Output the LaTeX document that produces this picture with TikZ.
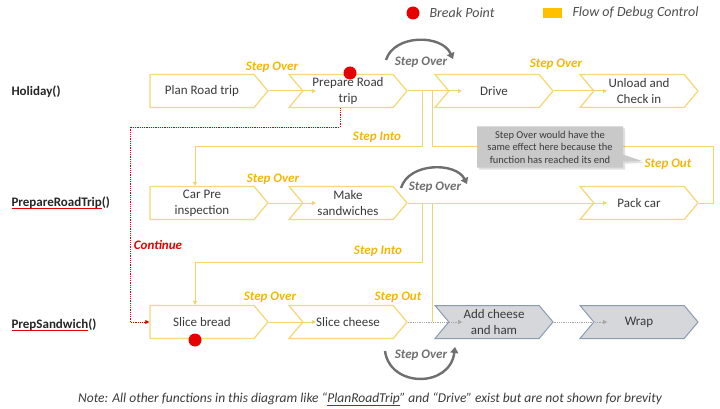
\documentclass[tikz,border=0pt]{standalone}
\usepackage{fontspec}
\setmainfont{Carlito}
\usetikzlibrary{shapes.symbols,shapes.callouts,arrows.meta,shadows}
\definecolor{chevline}{HTML}{F5D879}
\definecolor{flow}{HTML}{F3D46C}
\definecolor{steplbl}{HTML}{F2B705}
\definecolor{grayfill}{HTML}{D5D7DA}
\definecolor{grayline}{HTML}{8A9BB3}
\definecolor{arcgray}{HTML}{6F6F6F}
\definecolor{txt}{HTML}{3A3A3A}
\definecolor{bpred}{HTML}{E60000}
\definecolor{legyellow}{HTML}{FFC000}
\definecolor{callfill}{HTML}{C9C9C9}
\tikzset{
  chev/.style={signal, signal to=east, signal from=west, signal pointer angle=100,
    draw=chevline, line width=1.3pt, minimum width=118pt, minimum height=33pt,
    inner sep=1pt, align=center, text=txt, font=\fontsize{13}{16}\selectfont},
  chevfirst/.style={chev, signal from=nowhere},
  chevgray/.style={chev, fill=grayfill, draw=grayline, line width=1pt},
  steplabel/.style={text=steplbl, font=\fontsize{13}{15}\selectfont\bfseries\itshape},
  overlabel/.style={text=arcgray, font=\fontsize{13}{15}\selectfont\bfseries\itshape},
  funclabel/.style={anchor=west, text=black!85, font=\fontsize{13}{15}\selectfont\bfseries},
  legend/.style={anchor=west, text=txt!90, font=\fontsize{14}{16}\selectfont\itshape},
  tip/.style={-{Triangle[length=4pt,width=4pt]}},
}
\def\drawflow{\draw[color=flow, line width=1pt]}
\def\drawcont{\draw[color=bpred, line width=0.8pt, densely dotted]}
\def\drawarc{\draw[color=arcgray, line width=2.4pt, -{Triangle[length=6pt,width=8pt]}]}
\def\bpnode{\node[circle, fill=bpred, minimum size=13pt, inner sep=0pt]}
\def\squig#1{\setbox0\hbox{#1}\rlap{\color{bpred}\rule[-2.5pt]{\wd0}{0.6pt}}#1}

\begin{document}
\begin{tikzpicture}[x=1pt,y=-1pt]
\useasboundingbox (0,0) rectangle (720,409);
% legend
\bpnode (legdot) at (413,13) {};
\node[legend] (legbp) at (426,13) {Break Point};
\node[fill=legyellow, minimum width=19pt, minimum height=10pt, inner sep=0pt] (legbox) at (552,13) {};
\node[legend] (legflow) at (569,13) {Flow of Debug Control};
% functions
\node[funclabel] (fholiday) at (8,92) {Holiday()};
\node[funclabel] (fprep) at (8,203) {\squig{PrepareRoadTrip}()};
\node[funclabel] (fsand) at (8,325) {\squig{PrepSandwich}()};
% row 1
\node[chevfirst] (plan) at (202,91) {Plan Road trip};
\node[chev] (prep) at (348,91) {Prepare Road\\trip};
\node[chev] (drive) at (494,91) {Drive};
\node[chev] (unload) at (639,91) {Unload and\\Check in};
% row 2
\node[chevfirst] (car) at (202,203) {Car Pre\\inspection};
\node[chev] (sandw) at (348,203) {Make\\sandwiches};
\node[chev] (pack) at (639,203) {Pack car};
% row 3
\node[chevfirst] (bread) at (202,322) {Slice bread};
\node[chev] (cheese) at (348,322) {Slice cheese};
\node[chevgray] (ham) at (494,322) {Add cheese\\and ham};
\node[chevgray] (wrap) at (639,322) {Wrap};
% break points
\bpnode (bp1) at (350,73) {};
\bpnode (bp2) at (195,340) {};
% step over
\drawflow[tip] (plan.east) -- ([xshift=14pt]prep.west);
\drawflow[tip] (prep.east) -- ([xshift=14pt]drive.west);
\drawflow[tip] (drive.east) -- ([xshift=14pt]unload.west);
\drawflow[tip] (car.east) -- ([xshift=14pt]sandw.west);
\drawflow[tip] (sandw.east) -- ([xshift=14pt]pack.west);
\drawflow[tip] (bread.east) -- ([xshift=14pt]cheese.west);
\draw[color=black!35, line width=0.8pt, densely dotted, tip] (cheese.east) -- ([xshift=14pt]ham.west);
\draw[color=black!35, line width=0.8pt, densely dotted, tip] (ham.east) -- ([xshift=14pt]wrap.west);
\node[steplabel] (so1) at (272,67) {Step Over};
\node[steplabel] (so2) at (556,64) {Step Over};
\node[steplabel] (so3) at (273,179) {Step Over};
\node[steplabel] (so4) at (270,297) {Step Over};
% step into / out
\coordinate (out1) at (422,91);
\coordinate (back1) at (432,91);
\coordinate (out2) at (422,203);
\coordinate (back2) at (432,203);
\coordinate (back3) at (432,322);
\drawflow[tip] (out1) -- ++(0,56) -| ([xshift=-7pt]car.north);
\drawflow (pack.east) -- ++(15,0) |- (back1 |- 0,147) -- (back1);
\drawflow[tip] (out2) -- ++(0,59) -| ([xshift=-7pt]bread.north);
\drawflow (back3) -- (back2);
\node[steplabel] (si1) at (377,137) {Step Into};
\node[steplabel] (si2) at (378,251) {Step Into};
\node[steplabel] (sout1) at (668,164) {Step Out};
\node[steplabel] (sout2) at (398,297) {Step Out};
% continue
\drawcont[tip] ([xshift=-8pt]prep.south) |- (130,127) |- (bread.west);
\node[text=bpred, font=\fontsize{13}{15}\selectfont\bfseries\itshape] (cont) at (158,245) {Continue};
% step over arcs
\drawarc (386,60) .. controls (394,34) and (442,34) .. (453,59);
\drawarc (401,188) .. controls (409,162) and (456,162) .. (467,184);
\drawarc (385,351) .. controls (390,388) and (450,388) .. (455,347);
\node[overlabel] (arc1) at (421,62) {Step Over};
\node[overlabel] (arc2) at (435,187) {Step Over};
\node[overlabel] (arc3) at (421,355) {Step Over};
% callout
\node[rectangle callout, fill=callfill, drop shadow={opacity=0.25, shadow xshift=2pt, shadow yshift=-2pt},
  callout absolute pointer={(642,161)},
  minimum width=146pt, minimum height=41pt, inner sep=1pt, align=center,
  text=txt, font=\fontsize{10.5}{12.5}\selectfont] (remark) at (550,147)
  {Step Over would have the\\same effect here because the\\function has reached its end};
% note
\node[text=txt, font=\fontsize{13.5}{15}\selectfont\itshape] (footer) at (370,399)
  {Note: All other functions in this diagram like “\squig{PlanRoadTrip}” and “Drive” exist but are not shown for brevity};
\end{tikzpicture}
\end{document}
